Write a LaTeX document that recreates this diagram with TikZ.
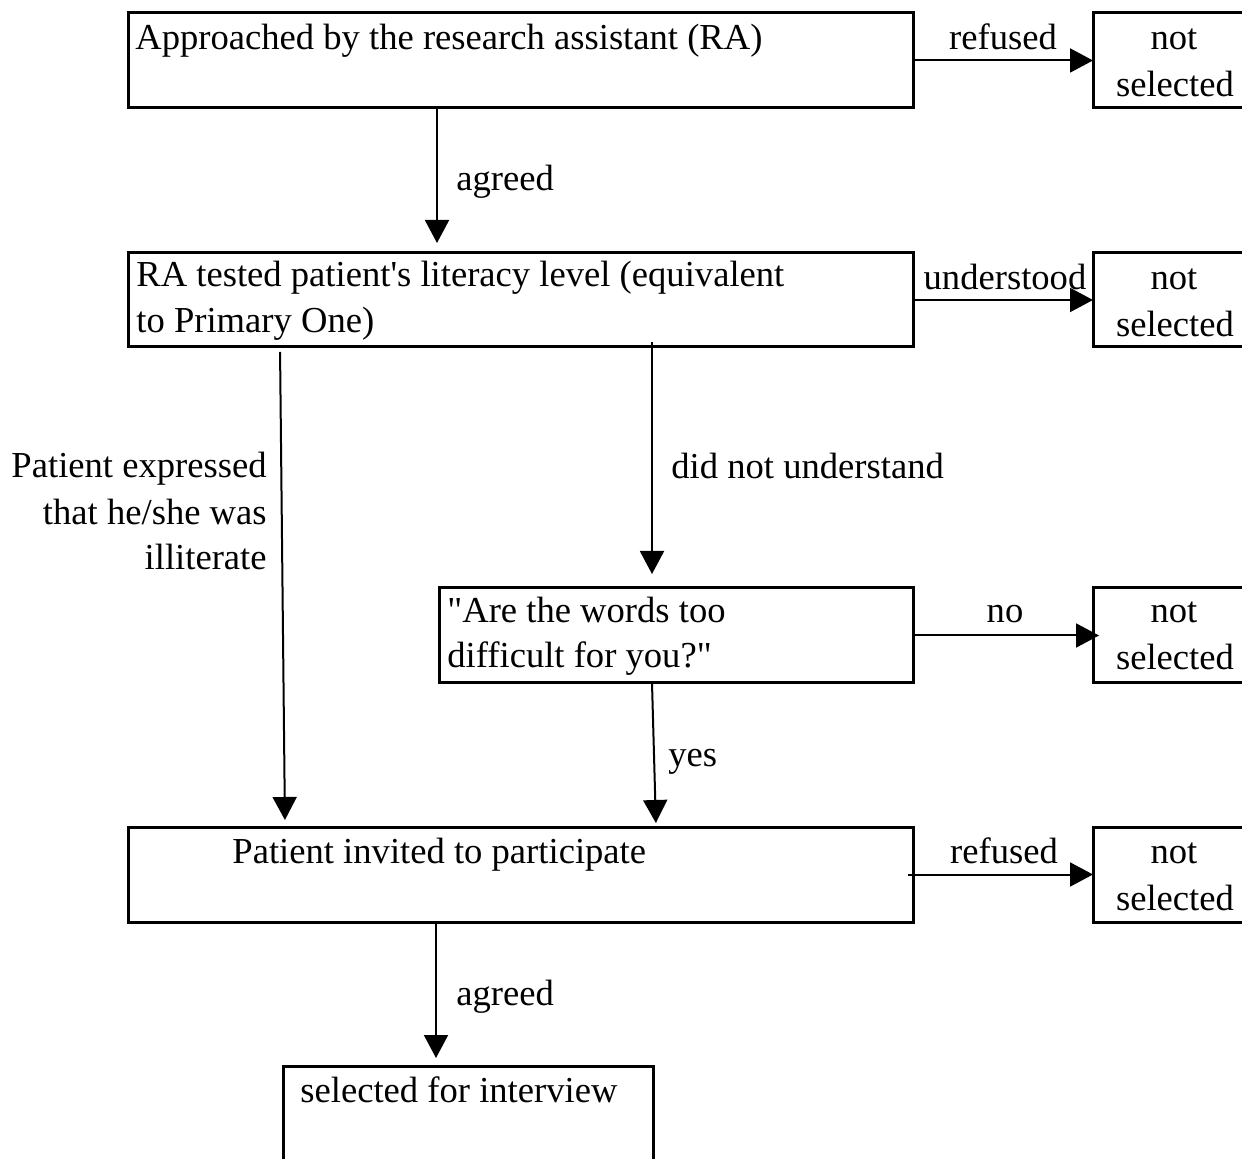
\documentclass[tikz,border=0pt]{standalone}
\usepackage{fontspec}
\setmainfont{Liberation Serif}[Ligatures=TeXOff]
\usetikzlibrary{arrows.meta}
\begin{document}
\begin{tikzpicture}[x=0.5pt,y=-0.5pt,
  font=\fontsize{18.3}{23.5}\selectfont,
  box/.style={draw, line width=1.5pt, rectangle, anchor=north west, inner sep=0pt, outer sep=0pt},
  nsel/.style={box, minimum width=82pt, minimum height=47.5pt},
  txt/.style={anchor=base west, inner sep=0pt},
  rtxt/.style={anchor=base east, inner sep=0pt},
  lbl/.style={anchor=base, inner sep=0pt},
  arr/.style={-{Triangle[length=11.5pt,width=12pt]}, line width=1pt}]
\useasboundingbox (0,0) rectangle (1242,1159);
\clip (0,0) rectangle (1242,1159);
% boxes
\node[box, minimum width=392.5pt, minimum height=47.5pt] (b1) at (128,13) {};
\node[nsel] (n1) at (1093,13) {};
\node[box, minimum width=392.5pt, minimum height=47pt] (b2) at (128,253) {};
\node[nsel, minimum height=47pt] (n2) at (1093,253) {};
\node[box, minimum width=237pt, minimum height=47.5pt] (b3) at (439,588) {};
\node[nsel] (n3) at (1093,588) {};
\node[box, minimum width=392.5pt, minimum height=47.5pt] (b4) at (128,827) {};
\node[nsel] (n4) at (1093,827) {};
\node[box, minimum width=185pt, minimum height=67pt] (b5) at (283,1066) {};
% not selected texts
\node[lbl] (n1a) at (1174,50) {not};
\node[lbl] (n1b) at (1175,97) {selected};
\node[lbl] (n2a) at (1174,290) {not};
\node[lbl] (n2b) at (1175,337) {selected};
\node[lbl] (n3a) at (1174,623) {not};
\node[lbl] (n3b) at (1175,670) {selected};
\node[lbl] (n4a) at (1174,863) {not};
\node[lbl] (n4b) at (1175,910) {selected};
% box texts
\node[txt] (t1) at (135,50) {Approached by the research assistant (RA)};
\node[txt] (t2a) at (136,287) {RA tested patient's literacy level (equivalent};
\node[txt] (t2b) at (136,333) {to Primary One)};
\node[txt] (t3a) at (447,623) {"Are the words too};
\node[txt] (t3b) at (447,668) {difficult for you?"};
\node[txt] (t4) at (232,863) {Patient invited to participate};
\node[txt] (t5) at (300,1102) {selected for interview};
% labels
\node[lbl] (l1) at (1003,50) {refused};
\node[lbl] (l2) at (1005,290) {understood};
\node[lbl] (l3) at (1005,623) {no};
\node[lbl] (l4) at (1004,863) {refused};
\node[txt] (l5) at (456,191) {agreed};
\node[txt] (l6) at (671,479) {did not understand};
\node[txt] (l7) at (668,767) {yes};
\node[txt] (l8) at (456,1005) {agreed};
\node[rtxt] (l9a) at (267,478) {Patient expressed};
\node[rtxt] (l9b) at (267,525) {that he/she was};
\node[rtxt] (l9c) at (267,570) {illiterate};
% connectors
\draw[arr] (b1.east) -- (n1.west);
\draw[arr] (b2.east) -- (n2.west);
\draw[arr] (b3.east) -- ([xshift=3pt]n3.west);
\draw[arr] ([xshift=-2.5pt]b4.east) -- (n4.west);
\draw[arr, shorten >=5pt] ([xshift=154.5pt]b1.south west) -- ([xshift=154.5pt]b2.north west);
\draw[arr, shorten <=-2.5pt, shorten >=7pt] ([xshift=262pt]b2.south west) -- ([xshift=106.5pt]b3.north west);
\draw[arr, shorten <=2.5pt, shorten >=3.5pt] ([xshift=76pt]b2.south west) -- ([xshift=78.5pt]b4.north west);
\draw[arr, shorten >=2pt] ([xshift=106.5pt]b3.south west) -- ([xshift=264pt]b4.north west);
\draw[arr, shorten >=4pt] ([xshift=154pt]b4.south west) -- ([xshift=76.5pt]b5.north west);
\end{tikzpicture}
\end{document}
